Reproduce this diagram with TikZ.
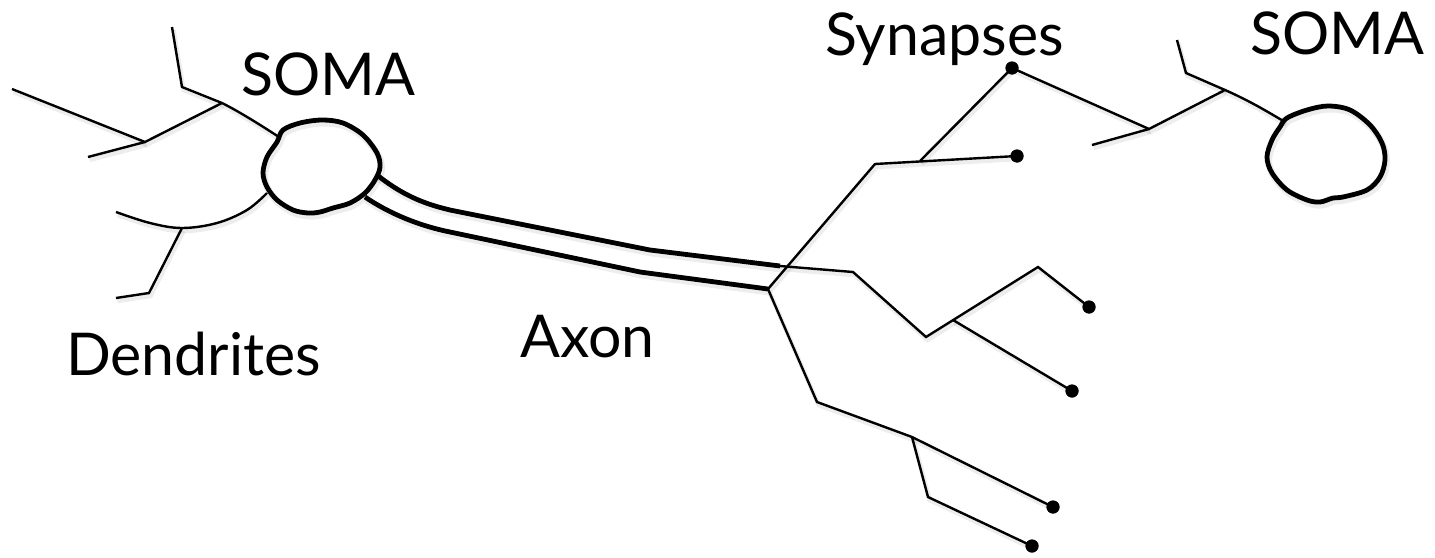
\documentclass[tikz,border=0pt]{standalone}
\usepackage{fontspec}
\setmainfont{Lato}

% Every stroke of both neurons; the styles decide how they look,
% so the same strokes serve for the soft shadow and for the ink.
\newcommand{\neurites}{%
  % presynaptic soma and its dendrites
  \draw[cellwall] plot[smooth cycle, tension=0.55] coordinates {
    (283,130) (300,123) (322,120) (343,123) (363,135) (377,153) (380,167)
    (375,180) (365,193) (350,203) (333,208) (320,212) (308,213) (293,210)
    (277,200) (267,187) (263,173) (267,157) (277,142)};
  \draw[fiber] (dA0) -- (dA1) -- (dA2) .. controls (240,112) and (262,126) .. (somaL);
  \draw[fiber] (dB0) -- (dB1) -- (dA2);
  \draw[fiber] (dC0) -- (dB1);
  \draw[fiber] plot[smooth, tension=0.6] coordinates {
    (116,212) (150,223) (182,228) (217,223) (247,210) (267,193)};
  \draw[fiber] (dD0) -- (dD1) -- (dD2);
  % axon
  \draw[cellwall, line join=miter] (axU0) .. controls (400,193) and (420,203) .. (axU1) -- (axU2) -- (axU3);
  \draw[cellwall, line join=miter] (axL0) .. controls (390,214) and (420,226) .. (axL1) -- (axL2) -- (axL3);
  % terminal branches
  \draw[fiber] (axL3) -- (tA1) -- (s1.center);
  \draw[fiber] (tA2) -- (s2.center);
  \draw[fiber] (axU3) -- (tB1) -- (tB2) -- (tB3) -- (s3.center);
  \draw[fiber] (tB4) -- (s4.center);
  \draw[fiber] (axL3) -- (tC1) -- (tC2) -- (s5.center);
  \draw[fiber] (tC2) -- (tC3) -- (s6.center);
  % postsynaptic dendrites and soma
  \draw[fiber] (s2.center) -- (rA1) -- (rA2) .. controls (1250,101) and (1268,112) .. (somaR);
  \draw[fiber] (rB0) -- (rA1);
  \draw[fiber] (rC0) -- (rC1) -- (rA2);
  \draw[cellwall] plot[smooth cycle, tension=0.55] coordinates {
    (1287,118) (1307,110) (1328,106) (1350,110) (1370,125) (1382,143)
    (1385,160) (1380,177) (1367,190) (1343,197) (1333,198) (1320,202)
    (1307,200) (1287,190) (1272,173) (1267,157) (1272,140) (1280,127)};
}

\begin{document}
\begin{tikzpicture}[x=1pt, y=-1pt,
  fiber/.style={line width=2.4pt},
  cellwall/.style={line width=4.8pt, line join=round},
  bouton/.style={circle, fill=black, inner sep=0pt, minimum size=13pt},
  caption/.style={font=\fontsize{59}{62}\selectfont, anchor=base west, inner sep=0pt},
  ]
\useasboundingbox (0,0) rectangle (1435,557);

% junction points of the left neuron
\coordinate (dA0) at (172,27);
\coordinate (dA1) at (182,87);
\coordinate (dA2) at (222,103);
\coordinate (somaL) at (279,137);
\coordinate (dB0) at (12,89);
\coordinate (dB1) at (145,142);
\coordinate (dC0) at (88,157);
\coordinate (dD0) at (182,228);
\coordinate (dD1) at (149,293);
\coordinate (dD2) at (116,298);

% the two walls of the axon
\coordinate (axU0) at (377,175);
\coordinate (axU1) at (450,210);
\coordinate (axU2) at (650,250);
\coordinate (axU3) at (780,266);
\coordinate (axL0) at (365,197);
\coordinate (axL1) at (450,232);
\coordinate (axL2) at (640,272);
\coordinate (axL3) at (768,289);

% axon terminal tree
\coordinate (tA1) at (875,164);
\coordinate (tA2) at (920,161);
\coordinate (tB1) at (853,272);
\coordinate (tB2) at (926,337);
\coordinate (tB3) at (1038,267);
\coordinate (tB4) at (953,320);
\coordinate (tC1) at (817,402);
\coordinate (tC2) at (912,437);
\coordinate (tC3) at (928,497);

% right neuron
\coordinate (rA1) at (1149,129);
\coordinate (rA2) at (1225,90);
\coordinate (somaR) at (1285,122);
\coordinate (rB0) at (1092,145);
\coordinate (rC0) at (1177,40);
\coordinate (rC1) at (1186,73);

% synaptic boutons
\node[bouton] (s1) at (1017,156) {};
\node[bouton] (s2) at (1012,68) {};
\node[bouton] (s3) at (1089,307) {};
\node[bouton] (s4) at (1072,391) {};
\node[bouton] (s5) at (1053,507) {};
\node[bouton] (s6) at (1032,546) {};

% soft shadow under the strokes
\begin{scope}[transform canvas={shift={(1.5pt,-3pt)}},
  fiber/.style={line width=4.5pt, draw=black, draw opacity=0.07},
  cellwall/.style={line width=7pt, draw=black, draw opacity=0.07, line join=round}]
  \neurites
\end{scope}

% the strokes themselves
\neurites
\foreach \s in {s1,s2,s3,s4,s5,s6} \fill (\s) circle (6.5pt);

% labels
\node[caption] (somaLtext) at (241,95) {SOMA};
\node[caption] (syntext) at (825,55) {Synapses};
\node[caption] (somaRtext) at (1250,54) {SOMA};
\node[caption] (dendtext) at (66,375) {Dendrites};
\node[caption] (axontext) at (520,357) {Axon};
\end{tikzpicture}
\end{document}
